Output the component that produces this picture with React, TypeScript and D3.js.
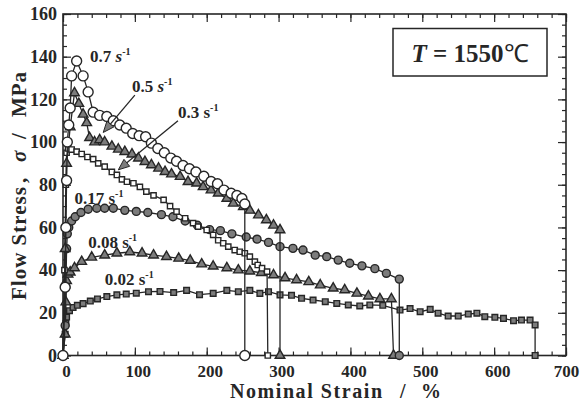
import React, { useRef, useEffect } from 'react';
import * as d3 from 'd3';

// [nominal strain %, flow stress MPa]
const rate07: [number, number][] = [
  [0, 0], [3, 32], [4, 60], [5, 82], [6, 100], [8, 108], [10, 116], [12, 131], [19, 138], [28, 131],
  [35, 123.5], [42, 114], [51, 112.5], [61, 112], [70, 110], [79, 108], [88, 106.5], [97, 104],
  [106, 103], [115, 102.5], [123, 99.5], [132, 97], [141, 95], [150, 92.5], [158, 91], [167, 89],
  [176, 87.5], [185, 86], [196, 84], [206, 81.5], [215, 80.5], [224, 77.5], [234, 76], [242, 75],
  [249, 73.6], [253, 71], [253, 0],
];
const rate05: [number, number][] = [
  [0, 0], [3, 50], [5, 90], [10, 107], [16, 123], [22, 118], [28, 113], [33, 109], [37, 102],
  [44, 100], [51, 101], [58, 100], [68, 98], [77, 96.6], [86, 95.5], [96, 94.3], [105, 92.4],
  [114, 90.8], [123, 89.3], [133, 87.7], [142, 86.1], [151, 85], [163, 83.8], [174, 81.4],
  [186, 80.7], [195, 79], [206, 77.5], [216, 76], [228, 73.6], [237, 71.3], [251, 69.7], [260, 68],
  [272, 65.8], [283, 63.5], [293, 61], [302, 58.8], [302, 0],
];
const rate03: [number, number][] = [
  [0, 0], [2, 40], [3, 60], [4, 80], [5, 95], [7, 97], [12, 96.5], [19, 95.5], [26, 94.4], [34, 93],
  [42, 92], [49, 90], [58, 88.5], [68, 86], [75, 84.6], [82, 82.5], [89, 81.4], [98, 80.7], [107, 79],
  [116, 76.8], [126, 75], [140, 72.9], [149, 70], [158, 67.4], [170, 64.3], [181, 62], [188, 60.4],
  [200, 58.8], [209, 56.5], [216, 54], [223, 52.6], [230, 51], [239, 49.4], [246, 48.6], [253, 47.9],
  [260, 46.3], [267, 44], [271, 42.4], [277, 40.9], [284, 39.3], [285, 0],
];
const rate017: [number, number][] = [
  [0, 0], [3, 14], [4, 32], [5, 50], [6, 57], [8, 60], [12, 63], [17, 65], [25, 67], [35, 68.5],
  [47, 69], [58, 69], [70, 69], [86, 68], [102, 67.5], [118, 67], [137, 66], [153, 65], [170, 63],
  [187, 61], [204, 59], [219, 58.5], [235, 57], [255, 55.5], [270, 54.5], [286, 53], [302, 51],
  [320, 50.2], [334, 49.4], [351, 47], [367, 46.3], [383, 44.7], [399, 43.2], [416, 42], [434, 40.7],
  [450, 38.5], [468, 35.8], [468, 0],
];
const rate008: [number, number][] = [
  [0, 0], [3, 10], [4, 25], [5, 35], [7, 38], [10, 39], [16, 41], [26, 44], [40, 46], [58, 47],
  [75, 47.9], [93, 48.5], [110, 47.9], [126, 47], [144, 46.3], [161, 45.5], [177, 44.5], [193, 42.8],
  [209, 41.8], [228, 41], [244, 40], [260, 39.5], [276, 38.8], [293, 37.7], [309, 36.3], [325, 35.4],
  [342, 34.5], [358, 33], [376, 31.5], [392, 30.7], [409, 29.1], [425, 27.8], [441, 26.5], [457, 26.5],
  [460, 0],
];
const rate002: [number, number][] = [
  [0, 0], [3, 10], [4, 15], [5, 18], [9, 21], [14, 22.5], [20, 23.5], [28, 24.3], [38, 25.5],
  [48, 26.5], [61, 27.6], [75, 28.4], [88, 28.8], [102, 29.2], [119, 29.9], [135, 30], [154, 29.5],
  [172, 30.5], [190, 28.5], [209, 29.1], [228, 30.5], [244, 29.9], [260, 30.5], [274, 29.1],
  [286, 29.9], [302, 28.4], [318, 28.2], [332, 26.8], [348, 26], [365, 25.2], [381, 24.4], [397, 23.7],
  [413, 23.2], [427, 23.7], [445, 23.5], [469, 21.3], [483, 22], [497, 20.5], [511, 21.6], [522, 19.8],
  [536, 18.5], [550, 18.5], [564, 19.4], [576, 19.8], [587, 18.2], [601, 17.9], [613, 17.4],
  [627, 16.3], [638, 16.6], [650, 16.6], [657, 14.3], [657, 0],
];

const rateNames = ['0.02', '0.08', '0.17', '0.3', '0.5', '0.7'];
// label anchor (strain, stress) of each rate label
const labelPos: [number, number][] = [[58, 33], [35, 50.4], [16, 71], [160, 111.3], [96, 123.5], [37.6, 137.5]];
// arrows: [from strain, from stress, to strain, to stress]
const arrows: [number, number, number, number][] = [
  [100, 122, 56, 104.5],
  [160, 110, 77, 87],
];

const xMajor = [0, 100, 200, 300, 400, 500, 600, 700];
const yMajor = [0, 20, 40, 60, 80, 100, 120, 140, 160];

const FONT = "'Liberation Serif', 'Times New Roman', serif";
const INK = '#262626';
const GREY = '#7c7c7c';

function App() {
  const ref = useRef<SVGSVGElement>(null);

  useEffect(() => {
    const svg = d3.select(ref.current);
    svg.selectAll('*').remove();

    const x = d3.scaleLinear().domain([0, 700]).range([63, 566]);
    const y = d3.scaleLinear().domain([0, 160]).range([355.5, 14]);
    const [x0, x1] = x.range();
    const [y0, y1] = y.range();

    const xMinor = d3.range(0, 701, 20);
    const yMinor = d3.range(0, 161, 5);
    const addAxis = (ax: any, tr: string, size: number, vals: number[], fmt: boolean) => {
      const g = svg.append('g').attr('transform', tr)
        .call(ax.tickValues(vals).tickSize(-size).tickFormat(fmt ? d3.format('d') : () => ''));
      g.select('.domain').remove();
      g.selectAll('line').attr('stroke', INK).attr('stroke-width', 1.2);
      return g;
    };
    // minor ticks on all four sides, pointing inward
    addAxis(d3.axisBottom(x), `translate(0,${y0})`, 4, xMinor, false);
    addAxis(d3.axisTop(x), `translate(0,${y1})`, 4, xMinor, false);
    addAxis(d3.axisLeft(y), `translate(${x0},0)`, 4, yMinor, false);
    addAxis(d3.axisRight(y), `translate(${x1},0)`, 4, yMinor, false);
    addAxis(d3.axisTop(x), `translate(0,${y1})`, 8, xMajor, false);
    addAxis(d3.axisRight(y), `translate(${x1},0)`, 8, yMajor, false);

    const bx = addAxis(d3.axisBottom(x), `translate(0,${y0})`, 8, xMajor, true);
    bx.selectAll('text').attr('font-family', FONT).attr('font-weight', 'bold')
      .attr('font-size', 17).attr('fill', INK).attr('y', 21.5).attr('dy', null)
      .attr('dx', (d: number) => (d === 700 ? 0 : 3));
    const ly = addAxis(d3.axisLeft(y), `translate(${x0},0)`, 8, yMajor, true);
    ly.selectAll('text').attr('font-family', FONT).attr('font-weight', 'bold')
      .attr('font-size', 18).attr('fill', INK).attr('x', -6);

    svg.append('rect').attr('x', x0).attr('y', y1).attr('width', x1 - x0).attr('height', y0 - y1)
      .attr('fill', 'none').attr('stroke', INK).attr('stroke-width', 1.6);

    // series
    const datasets = [rate002, rate008, rate017, rate03, rate05, rate07];
    const shapes = [d3.symbolSquare, d3.symbolTriangle, d3.symbolCircle, d3.symbolSquare, d3.symbolTriangle, d3.symbolCircle];
    const sizes = [32, 40, 50, 28, 40, 78];
    const fills = [GREY, GREY, GREY, '#fff', GREY, '#fff'];
    const line = d3.line<[number, number]>().x((d) => x(d[0])).y((d) => y(d[1]));

    datasets.forEach((data, i) => {
      const g = svg.append('g');
      g.append('path').attr('d', line(data)).attr('fill', 'none').attr('stroke', INK).attr('stroke-width', 1.3);
      g.selectAll('path.m').data(data).enter().append('path').attr('class', 'm')
        .attr('d', d3.symbol().type(shapes[i]).size(sizes[i])())
        .attr('transform', (d) => `translate(${x(d[0])},${y(d[1])})`)
        .attr('fill', fills[i]).attr('stroke', INK).attr('stroke-width', 1.4);
    });

    // rate labels
    rateNames.forEach((name, i) => {
      const t = svg.append('text').attr('x', x(labelPos[i][0])).attr('y', y(labelPos[i][1]))
        .attr('font-family', FONT).attr('font-weight', 'bold').attr('font-size', 17).attr('fill', INK);
      t.append('tspan').text(name + ' ');
      t.append('tspan').text('s').attr('font-style', i >= 4 ? 'italic' : 'normal');
      t.append('tspan').text('-1').attr('font-size', 10).attr('dy', -7);
    });

    // arrows
    arrows.forEach(([a, b, c, d]) => {
      const sx = x(a), sy = y(b), ex = x(c), ey = y(d);
      const ang = Math.atan2(ey - sy, ex - sx);
      const L = 11, Wd = 4.5;
      const bxp = ex - L * Math.cos(ang), byp = ey - L * Math.sin(ang);
      svg.append('line').attr('x1', sx).attr('y1', sy).attr('x2', bxp).attr('y2', byp)
        .attr('stroke', INK).attr('stroke-width', 1.3);
      const pts = [
        [ex, ey],
        [bxp + Wd * Math.sin(ang), byp - Wd * Math.cos(ang)],
        [bxp - Wd * Math.sin(ang), byp + Wd * Math.cos(ang)],
      ];
      svg.append('polygon').attr('points', pts.map((p) => p.join(',')).join(' '))
        .attr('fill', GREY).attr('stroke', INK).attr('stroke-width', 1);
    });

    // temperature box
    svg.append('rect').attr('x', 393).attr('y', 28.5).attr('width', 154).attr('height', 47.5)
      .attr('fill', '#fff').attr('stroke', INK).attr('stroke-width', 1.5);
    const tt = svg.append('text').attr('x', 470).attr('y', 62).attr('text-anchor', 'middle')
      .attr('font-family', FONT).attr('font-weight', 'bold').attr('font-size', 25).attr('fill', INK);
    tt.append('tspan').text('T').attr('font-style', 'italic');
    tt.append('tspan').text(' = 1550');
    tt.append('tspan').text('℃').attr('font-weight', 'normal');

    // axis titles
    const xt = svg.append('text').attr('y', 398).attr('font-family', FONT).attr('font-weight', 'bold')
      .attr('font-size', 20).attr('fill', INK);
    xt.append('tspan').attr('x', 230).attr('textLength', 152).text('Nominal Strain');
    xt.append('tspan').attr('x', 400).text('/');
    xt.append('tspan').attr('x', 421).text('%');

    const yt = svg.append('text').attr('transform', 'translate(25.5,300) rotate(-90)')
      .attr('font-family', FONT).attr('font-weight', 'bold').attr('font-size', 21).attr('fill', INK);
    yt.append('tspan').attr('x', 0).attr('textLength', 113).text('Flow Stress');
    yt.append('tspan').attr('x', 117).text(',');
    yt.append('tspan').attr('x', 138).text('σ').attr('font-style', 'italic');
    yt.append('tspan').attr('x', 161).text('/');
    yt.append('tspan').attr('x', 183).attr('textLength', 45).text('MPa');
  }, []);

  return (
    <svg ref={ref} width={580} height={405}
      style={{ position: 'absolute', left: 0, top: 0, background: '#fff' }} />
  );
}

export default App;
